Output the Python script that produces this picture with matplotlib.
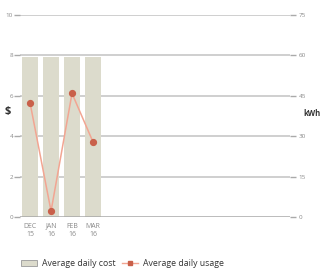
import matplotlib
matplotlib.use("Agg")
import matplotlib.pyplot as plt
from matplotlib.patches import Patch
from matplotlib.lines import Line2D

plt.rcParams['font.family'] = ['Open Sans', 'DejaVu Sans']

# data
months = ["DEC\n15", "JAN\n16", "FEB\n16", "MAR\n16"]
cost = [7.9, 7.9, 7.9, 7.9]          # $ per day
usage = [42.3, 2.2, 45.9, 27.9]      # kWh per day
cost_ticks = [0, 2, 4, 6, 8, 10]
usage_ticks = [0, 15, 30, 45, 60, 75]

bar_color = '#dcdbcc'
line_color = '#f2a592'
marker_color = '#c9604a'
grid_color = '#cccccc'
label_color = '#8a8a8a'

fig = plt.figure(figsize=(3.23, 2.73), dpi=100)
ax = fig.add_axes([0.062, 0.205, 0.836, 0.74])

x = list(range(len(months)))
ax.bar(x, cost, width=0.8, color=bar_color, edgecolor='none', zorder=2)
ax.set_xlim(-0.48, 12.4)
ax.set_ylim(0, 10)
ax.set_yticks(cost_ticks)
ax.set_yticklabels([str(t) for t in cost_ticks], fontsize=4.5, color=label_color)
ax.set_xticks(x)
ax.set_xticklabels(months, fontsize=5, color=label_color, linespacing=1.2)
ax.tick_params(axis='x', length=0, pad=4)
ax.tick_params(axis='y', length=4, width=1, color='#aaaaaa', pad=1)
for s in ax.spines.values():
    s.set_visible(False)
for t in cost_ticks[1:]:
    ax.axhline(t, color=grid_color, lw=1.3, zorder=1)
ax.axhline(0, color='#a8a8a8', lw=1.8, zorder=3)
fig.text(0.025, 0.59, '$', fontsize=8, fontweight='bold', color='#333333', ha='center', va='center')

ax2 = ax.twinx()
ax2.plot(x, usage, color=line_color, lw=1.1, marker='o', markersize=4.2,
         markerfacecolor=marker_color, markeredgecolor=marker_color, zorder=5)
ax2.set_ylim(0, 75)
ax2.set_yticks(usage_ticks)
ax2.set_yticklabels([str(t) for t in usage_ticks], fontsize=4.5, color=label_color)
ax2.tick_params(axis='y', length=4, width=1, color='#aaaaaa', pad=2)
for s in ax2.spines.values():
    s.set_visible(False)
fig.text(0.993, 0.585, 'kWh', fontsize=5.5, fontweight='bold', color='#333333', ha='right', va='center')

handles = [Patch(facecolor=bar_color, edgecolor='#999999', lw=0.6),
           Line2D([0], [0], color=line_color, lw=1.0, marker='s', markersize=2.5,
                  markerfacecolor=marker_color, markeredgecolor=marker_color)]
fig.legend(handles, ['Average daily cost', 'Average daily usage'], loc='lower left',
           bbox_to_anchor=(0.04, -0.01), ncol=2, frameon=False, fontsize=6.3,
           handlelength=1.8, handletextpad=0.6, columnspacing=0.8, labelcolor='#333333')

fig.savefig('out.png', dpi=100)
